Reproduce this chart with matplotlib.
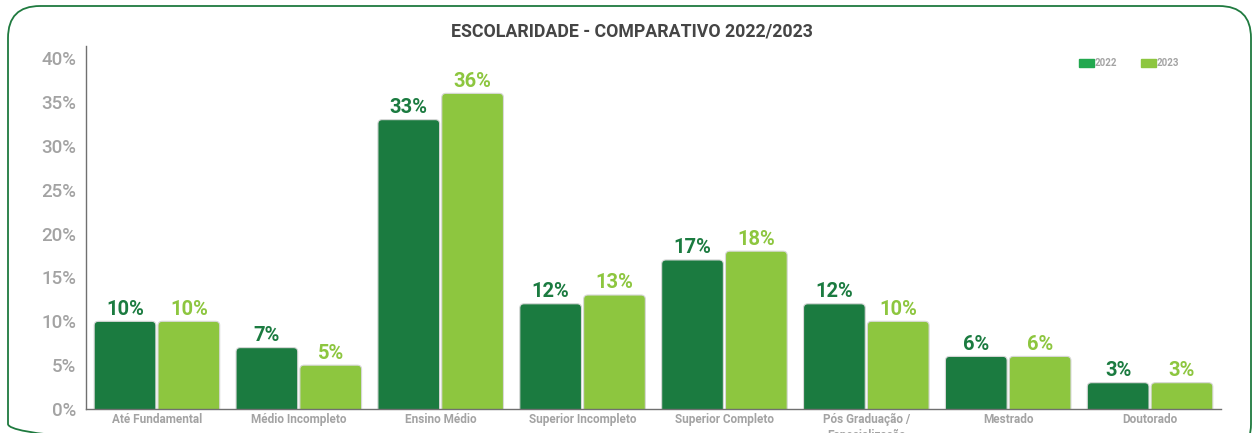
import numpy as np
import matplotlib.pyplot as plt
from matplotlib.patches import FancyBboxPatch

plt.rcParams['font.family'] = ['Roboto', 'DejaVu Sans']

# Escolaridade por ano (%)
categorias = ["Até Fundamental", "Médio Incompleto", "Ensino Médio", "Superior Incompleto",
              "Superior Completo", "Pós Graduação /\nEspecialização", "Mestrado", "Doutorado"]
valores_2022 = [10, 7, 33, 12, 17, 12, 6, 3]
valores_2023 = [10, 5, 36, 13, 18, 10, 6, 3]
anos = ["2022", "2023"]

cor_2022 = "#1b7b40"
cor_2023 = "#8dc63f"
cor_leg_2022 = "#22a84f"
cinza = "#a3a3a3"

W, H = 1253, 433
fig = plt.figure(figsize=(W / 100, H / 100), dpi=100)

# moldura arredondada em coordenadas de pixel
fundo = fig.add_axes([0, 0, 1, 1], zorder=0)
fundo.set_xlim(0, W)
fundo.set_ylim(H, 0)
fundo.axis("off")
fundo.add_patch(FancyBboxPatch((8, 6), 1243, 450, boxstyle="round,pad=0,rounding_size=32",
                               fill=False, edgecolor="#1f7a3f", linewidth=1.3))

ax = fig.add_axes([86 / W, 1 - 409 / H, (1221 - 86) / W, (409 - 46) / H], zorder=1)
ax.patch.set_alpha(0)

x = np.arange(len(categorias))
larg = 0.435
desloc = 0.225


def barras_arredondadas(xs, vals, cor):
    bars = ax.bar(xs, vals, width=larg, color=cor)
    for b in bars:
        b.set_visible(False)
        p = FancyBboxPatch((b.get_x(), -1.0), b.get_width(), b.get_height() + 1.0,
                           boxstyle="round,pad=0,rounding_size=0.03", mutation_aspect=16,
                           facecolor=cor, edgecolor="#d8d8d8", linewidth=0.8, zorder=2)
        ax.add_patch(p)
    return bars


barras_arredondadas(x - desloc, valores_2022, cor_2022)
barras_arredondadas(x + desloc, valores_2023, cor_2023)

for xi, v in zip(x - desloc, valores_2022):
    ax.text(xi, v + 0.3, f"{v}%", ha="center", va="bottom", color=cor_2022,
            fontsize=14.5, fontweight="semibold")
for xi, v in zip(x + desloc, valores_2023):
    ax.text(xi, v + 0.3, f"{v}%", ha="center", va="bottom", color=cor_2023,
            fontsize=14.5, fontweight="semibold")

ax.set_xlim(-0.5, len(categorias) - 0.5)
ax.set_ylim(0, 41.4)
ax.set_yticks(np.arange(0, 41, 5))
ax.set_yticklabels([f"{t}%" for t in range(0, 41, 5)], color=cinza, fontsize=13.5,
                   fontweight="medium")
ax.set_xticks(x)
ax.set_xticklabels(categorias, color=cinza, fontsize=8.5, fontweight="bold", linespacing=1.3)
ax.tick_params(axis="both", length=0)
ax.tick_params(axis="y", pad=7)
ax.tick_params(axis="x", pad=3)
for lado in ["top", "right"]:
    ax.spines[lado].set_visible(False)
ax.spines["left"].set_color("#707070")
ax.spines["bottom"].set_color("#707070")
ax.spines["left"].set_linewidth(1.0)
ax.spines["bottom"].set_linewidth(1.0)

fig.text(632 / W, 1 - 31 / H, "ESCOLARIDADE - COMPARATIVO 2022/2023", ha="center", va="center",
         fontsize=12.8, fontweight="bold", color="#454545")

# legenda
for px, ano, cor in [(1079, anos[0], cor_leg_2022), (1141, anos[1], cor_2023)]:
    fundo.add_patch(plt.Rectangle((px, 58.5), 15, 8, color=cor))
    fundo.text(px + 16, 63, ano, ha="left", va="center", fontsize=7, color=cinza,
               fontweight="bold")

fig.savefig("out.png", dpi=100)
